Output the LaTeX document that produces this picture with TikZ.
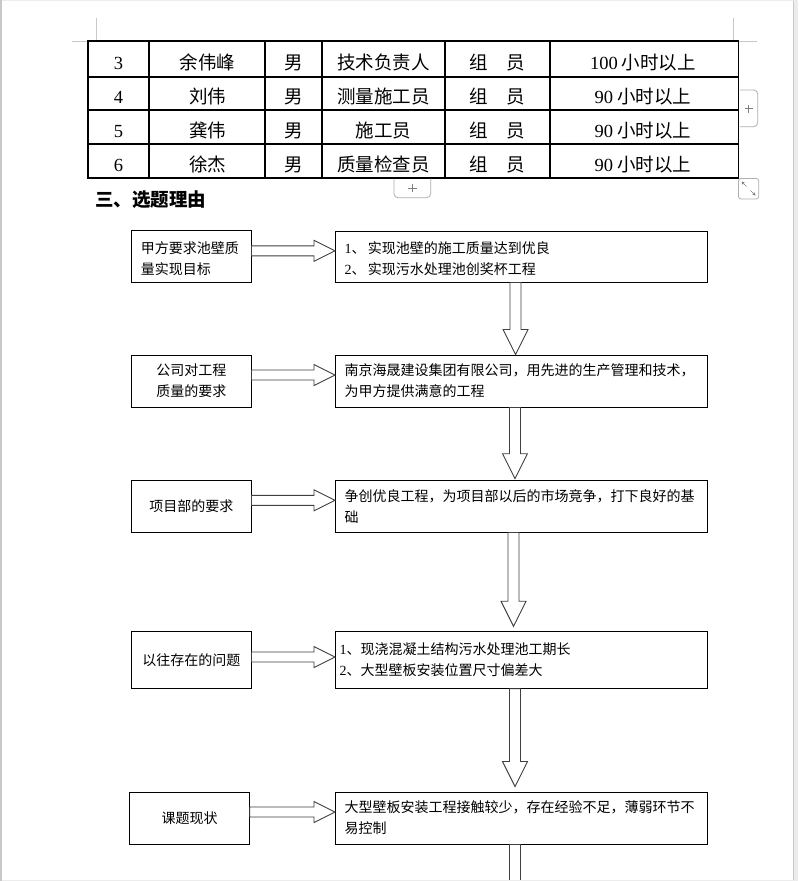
\documentclass[tikz,border=0pt]{standalone}
\usepackage{fontspec}
\setmainfont{Liberation Serif}
\newfontfamily\cjk{Noto Sans CJK SC}
\usetikzlibrary{calc,arrows.meta}

\newcommand{\latn}[1]{{\rmfamily #1}}
\newcommand{\tabfont}{\fontsize{18.5}{22}\selectfont\cjk}
\newcommand{\flowfont}{\fontsize{14}{21}\selectfont\cjk}

\definecolor{markgray}{RGB}{200,200,200}
\definecolor{btngray}{RGB}{175,175,175}
\definecolor{framegray}{RGB}{236,236,236}
\definecolor{arrowgray}{RGB}{64,64,64}

\tikzset{
  cell/.style={anchor=base,inner sep=0pt,font=\tabfont},
  leftbox/.style={draw,line width=1pt,text width=101pt,inner xsep=9.25pt,inner ysep=0pt,align=center,font=\flowfont},
  rightbox/.style={draw,line width=1pt,text width=354pt,inner xsep=9pt,inner ysep=0pt,align=left,font=\flowfont},
  blockarrow/.style={draw=arrowgray,fill=white,line width=0.9pt,line join=miter},
  btn/.style={draw=btngray,line width=0.8pt,rounded corners=4pt},
}

% hollow arrow downwards, from #1 to the tip at the height of #2
\newcommand{\downblk}[2]{%
  \draw[blockarrow] let \p1=(#1), \p2=(#2) in
    (\x1-5.5pt,\y1) -- (\x1-5.5pt,\y2+25pt) -- (\x1-12.5pt,\y2+25pt) -- (\x1,\y2)
    -- (\x1+12.5pt,\y2+25pt) -- (\x1+5.5pt,\y2+25pt) -- (\x1+5.5pt,\y1) -- cycle;}
% hollow arrow to the right, from #1 to the tip at #2
\newcommand{\rightblk}[2]{%
  \draw[blockarrow] let \p1=(#1), \p2=(#2) in
    (\x1,\y1+5pt) -- (\x2-21pt,\y1+5pt) -- (\x2-21pt,\y1+10.5pt) -- (\x2,\y1)
    -- (\x2-21pt,\y1-10.5pt) -- (\x2-21pt,\y1-5pt) -- (\x1,\y1-5pt) -- cycle;}

\begin{document}
\begin{tikzpicture}[x=1pt,y=-1pt]
    \fill[white] (0,0) rectangle (798,881);
    \useasboundingbox (0,0) rectangle (798,881);

    % page corner marks
    \draw[markgray,line width=0.8pt] (96,18) -- (96,41) (72,41) -- (88,41);
    \draw[markgray,line width=0.8pt] (733,18) -- (733,41) (738.5,41) -- (757,41);

    % table
    \foreach \ry in {41,77,110,144,178}
        \draw[line width=1.3pt,line cap=rect] (88,\ry) -- (738.5,\ry);
    \foreach \cx in {88,149,265,322,445,550,738.5}
        \draw[line width=1.3pt,line cap=rect] (\cx,41) -- (\cx,178);
    \foreach \ry/\no/\who/\job/\hrs [count=\r] in {69/3/余伟峰/技术负责人/100,103.5/4/刘伟/测量施工员/90,137/5/龚伟/施工员/90,171/6/徐杰/质量检查员/90}{
        \node[cell] (no\r) at (118.5,\ry) {\latn{\no}};
        \node[cell] (name\r) at (207.5,\ry) {\who};
        \node[cell] (sex\r) at (293.5,\ry) {男};
        \node[cell] (job\r) at (383.5,\ry) {\job};
        \node[cell] (role\r) at (497,\ry) {组　员};
        \node[cell] (hrs\r) at (643,\ry) {\latn{\hrs} 小时以上};
    }

    % table buttons
    \draw[btn] (740,90) -- (757.7,90) -- (757.7,126.7) -- (740,126.7);
    \draw[gray,line width=0.8pt] (745,108.7) -- (752.7,108.7) (748.8,104.7) -- (748.8,112.7);
    \draw[btn] (394,178.7) -- (394,197.7) -- (430.7,197.7) -- (430.7,178.7);
    \draw[gray,line width=0.8pt] (408.3,188) -- (416.7,188) (412.5,184) -- (412.5,192.3);
    \draw[btn,rounded corners=2.5pt,fill=white] (738.5,178.5) rectangle (758.7,199);
    \draw[gray,line width=0.6pt,-{Stealth[length=3pt,width=3.5pt]}] (746.5,186.5) -- (741.5,181.5);
    \draw[gray,line width=0.6pt,-{Stealth[length=3pt,width=3.5pt]}] (750.5,190.5) -- (755.5,195.5);

    \node[anchor=base west,inner sep=0pt,font=\fontsize{18.5}{22}\selectfont\cjk\bfseries] (title) at (95,206.5) {三、选题理由};

    % flow chart
    \node[leftbox,align=left,minimum height=51.3pt,text height=16pt] (l1) at (191.25,256.35) {甲方要求池壁质\\量实现目标};
    \node[rightbox,minimum height=51pt,text height=16pt] (r1) at (521.5,256.5) {\latn{1}、\hspace{2.5pt}实现池壁的施工质量达到优良\\\latn{2}、\hspace{2.5pt}实现污水处理池创奖杯工程};
    \node[leftbox,minimum height=52pt] (l2) at (191.25,381) {公司对工程\\质量的要求};
    \node[rightbox,minimum height=52pt] (r2) at (521.5,381) {南京海晟建设集团有限公司，用先进的生产管理和技术，\\为甲方提供满意的工程};
    \node[leftbox,minimum height=51.3pt] (l3) at (191.25,506.35) {项目部的要求};
    \node[rightbox,minimum height=51.3pt] (r3) at (521.5,506.35) {争创优良工程，为项目部以后的市场竞争，打下良好的基\\础};
    \node[leftbox,minimum height=56.5pt] (l4) at (191.25,660) {以往存在的问题};
    \node[rightbox,minimum height=56.5pt] (r4) at (521.5,660) {\hspace*{-5pt}\latn{1}、现浇混凝土结构污水处理池工期长\\\hspace*{-5pt}\latn{2}、大型壁板安装位置尺寸偏差大};
    \node[leftbox,minimum height=52pt] (l5) at (189.5,818) {课题现状};
    \node[rightbox,minimum height=52pt] (r5) at (521.5,818) {大型壁板安装工程接触较少，存在经验不足，薄弱环节不\\易控制};

    \rightblk{$(l1.east)+(0,-5.5)$}{r1.west}
    \rightblk{$(l2.east)+(0,-6)$}{r2.west}
    \rightblk{$(l3.east)+(0,-6)$}{r3.west}
    \rightblk{$(l4.east)+(0,-3)$}{r4.west}
    \rightblk{$(l5.east)+(0,-6)$}{r5.west}

    \downblk{$(r1.south)+(-6,0)$}{r2.north}
    \downblk{$(r2.south)+(-6.5,0)$}{$(r3.north)+(0,-1.5)$}
    \downblk{$(r3.south)+(-8,0)$}{$(r4.north)+(0,-5)$}
    \downblk{$(r4.south)+(-6.5,0)$}{$(r5.north)+(0,-5)$}
    \coordinate (tail) at (515,885);
    \draw[blockarrow] let \p1=($(r5.south)+(-6.5,0)$), \p2=(tail) in
        (\x1-5.5pt,\y2) -- (\x1-5.5pt,\y1) -- (\x1+5.5pt,\y1) -- (\x1+5.5pt,\y2);

    % window frame
    \fill[framegray] (793,0) rectangle (798,881);
    \draw[markgray,line width=0.6pt] (793.3,0) -- (793.3,881);
    \fill[framegray] (0,879.5) rectangle (798,881);
    \fill[framegray] (0,0) rectangle (798,1);
    \fill[markgray] (0,0) rectangle (1.5,881);
\end{tikzpicture}
\end{document}
